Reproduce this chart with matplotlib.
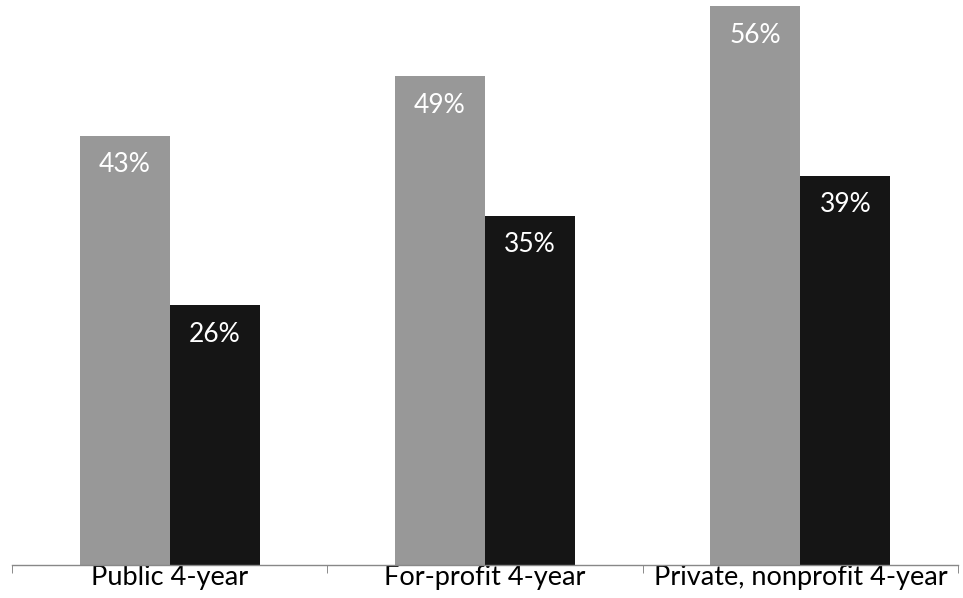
import matplotlib
matplotlib.use('Agg')
import matplotlib.pyplot as plt
import numpy as np

# categories and the two series (percent)
categorias = ["Public 4-year", "For-profit 4-year", "Private, nonprofit 4-year"]
serie_gris = [43, 49, 56]
serie_negra = [26, 35, 39]

plt.rcParams['font.family'] = ['Lato', 'DejaVu Sans']

fig = plt.figure(figsize=(9.63, 5.98), dpi=100)
ax = fig.add_axes([12/963, 33/598, 946/963, 565/598])

x = np.arange(len(categorias))
ancho = 0.285
barras1 = ax.bar(x - ancho/2, serie_gris, ancho, color='#989898')
barras2 = ax.bar(x + ancho/2, serie_negra, ancho, color='#151515')

# etiquetas blancas cerca del tope de cada barra
for barras, vals in ((barras1, serie_gris), (barras2, serie_negra)):
    for b, v in zip(barras, vals):
        ax.annotate("%d%%" % v, (b.get_x() + b.get_width()/2, v),
                    xytext=(0, -21), textcoords='offset points',
                    ha='center', va='center', color='white', fontsize=19)

ax.set_xlim(-0.5, 2.5)
ax.set_ylim(0, 56.6)
ax.set_yticks([])
ax.set_xticks(x)
ax.set_xticklabels(categorias, fontsize=19.5)
ax.tick_params(axis='x', which='major', length=0, pad=0)
ax.set_xticks([-0.5, 0.5, 1.5, 2.5], minor=True)
ax.tick_params(axis='x', which='minor', length=6, color='#777777')
for s in ('top', 'right', 'left'):
    ax.spines[s].set_visible(False)
ax.spines['bottom'].set_color('#888888')
ax.spines['bottom'].set_linewidth(1.0)

fig.savefig("out.png", dpi=100)
